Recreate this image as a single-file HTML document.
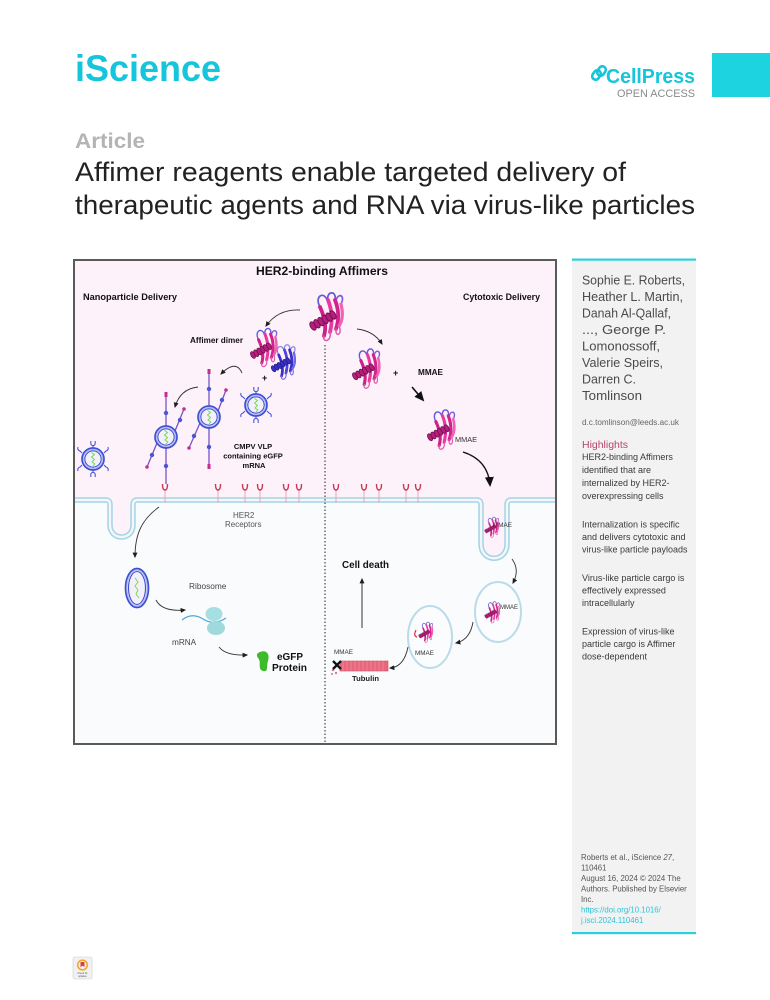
<!DOCTYPE html>
<html><head><meta charset="utf-8"><title>iScience article</title>
<style>
html,body{margin:0;padding:0;background:#fff}
body{width:770px;height:1000px;overflow:hidden}
svg{display:block}
text{font-family:"Liberation Sans",Arial,sans-serif}
</style></head><body>
<svg width="770" height="1000" viewBox="0 0 770 1000" xmlns="http://www.w3.org/2000/svg">
<defs>
<marker id="ah" viewBox="0 0 10 10" refX="8" refY="5" markerWidth="5.5" markerHeight="5.5" markerUnits="userSpaceOnUse" orient="auto"><path d="M0 0.5 L10 5 L0 9.5 z" fill="#1e1e1e"/></marker>
<marker id="ahb" viewBox="0 0 10 10" refX="8" refY="5" markerWidth="10" markerHeight="10" markerUnits="userSpaceOnUse" orient="auto"><path d="M0 0.5 L10 5 L0 9.5 z" fill="#111"/></marker>

<symbol id="aff" viewBox="0 0 40 52" overflow="visible">
 <g fill="none" stroke-linecap="round" stroke-linejoin="round">
  <path d="M12 17 C6 6 16 1 19 10" stroke="#6457dc" stroke-width="1.7"/>
  <path d="M20 10 C18 1 29 0 27 10" stroke="#6457dc" stroke-width="1.7"/>
  <path d="M28 11 C29 3 38 4 33 14" stroke="#7b5ee0" stroke-width="1.7"/>
  <path d="M12 17 C16 26 19 35 16 46" stroke="#cf1f88" stroke-width="3.8"/>
  <path d="M20 10 C24 20 25 30 22 42" stroke="#e8399f" stroke-width="3.8"/>
  <path d="M27 10 C31 20 31 30 28 39" stroke="#d1238b" stroke-width="3.8"/>
  <path d="M33 14 C35 22 35 30 31 36" stroke="#f062b6" stroke-width="3.2"/>
  <path d="M16 46 C14 53 24 52 22 42" stroke="#e25aad" stroke-width="1.5"/>
  <path d="M28 39 C27 48 35 45 31 36" stroke="#e25aad" stroke-width="1.5"/>
 </g>
 <g fill="#b51f7c" stroke="#6e0d4c" stroke-width="0.9">
  <ellipse cx="5" cy="36" rx="2.6" ry="4.6" transform="rotate(-30 5 36)"/>
  <ellipse cx="9" cy="33.8" rx="2.6" ry="4.6" transform="rotate(-30 9 33.8)"/>
  <ellipse cx="13" cy="31.6" rx="2.6" ry="4.6" transform="rotate(-30 13 31.6)"/>
  <ellipse cx="17" cy="29.4" rx="2.6" ry="4.6" transform="rotate(-30 17 29.4)"/>
  <ellipse cx="21" cy="27.2" rx="2.6" ry="4.6" transform="rotate(-30 21 27.2)"/>
  <ellipse cx="25" cy="25" rx="2.6" ry="4.6" transform="rotate(-30 25 25)"/>
 </g>
</symbol>

<symbol id="affb" viewBox="0 0 40 52" overflow="visible">
 <g fill="none" stroke-linecap="round" stroke-linejoin="round">
  <path d="M12 17 C6 6 16 1 19 10" stroke="#8c86ea" stroke-width="1.7"/>
  <path d="M20 10 C18 1 29 0 27 10" stroke="#8c86ea" stroke-width="1.7"/>
  <path d="M28 11 C29 3 38 4 33 14" stroke="#8c86ea" stroke-width="1.7"/>
  <path d="M12 17 C16 26 19 35 16 46" stroke="#3a2fc6" stroke-width="3.8"/>
  <path d="M20 10 C24 20 25 30 22 42" stroke="#4f43d8" stroke-width="3.8"/>
  <path d="M27 10 C31 20 31 30 28 39" stroke="#3a2fc6" stroke-width="3.8"/>
  <path d="M33 14 C35 22 35 30 31 36" stroke="#6e66e4" stroke-width="3.2"/>
  <path d="M16 46 C14 53 24 52 22 42" stroke="#6e66e4" stroke-width="1.5"/>
  <path d="M28 39 C27 48 35 45 31 36" stroke="#6e66e4" stroke-width="1.5"/>
 </g>
 <g fill="#3a2fc6" stroke="#1e1880" stroke-width="0.9">
  <ellipse cx="5" cy="36" rx="2.6" ry="4.6" transform="rotate(-30 5 36)"/>
  <ellipse cx="9" cy="33.8" rx="2.6" ry="4.6" transform="rotate(-30 9 33.8)"/>
  <ellipse cx="13" cy="31.6" rx="2.6" ry="4.6" transform="rotate(-30 13 31.6)"/>
  <ellipse cx="17" cy="29.4" rx="2.6" ry="4.6" transform="rotate(-30 17 29.4)"/>
  <ellipse cx="21" cy="27.2" rx="2.6" ry="4.6" transform="rotate(-30 21 27.2)"/>
  <ellipse cx="25" cy="25" rx="2.6" ry="4.6" transform="rotate(-30 25 25)"/>
 </g>
</symbol>

<g id="vlp">
 <circle r="11" fill="#f4f0fb" stroke="#3e50d2" stroke-width="1.7"/>
 <circle r="8.2" fill="none" stroke="#3e50d2" stroke-width="1.1"/>
 <circle r="9.6" fill="none" stroke="#aab3f0" stroke-width="0.9"/>
 <path d="M-1.5 -6.5 L1.5 -4.5 L-1.5 -2 L1.5 0.5 L-1 3 L1.8 5 L0 7" fill="none" stroke="#6fd64a" stroke-width="0.9"/>
</g>
<g id="vlpm" fill="none" stroke="#4a55d0" stroke-width="1.1">
 <path d="M-2.2 -18 V-15.6 A2.2 2.2 0 0 0 2.2 -15.6 V-18 M0 -13.4 V-11"/>
 <path d="M-2.2 18 V15.6 A2.2 2.2 0 0 1 2.2 15.6 V18 M0 13.4 V11"/>
 <path d="M-11 -6 L-13 -8 q-3 -1 -2 -4"/>
 <path d="M11 -6 L13 -8 q3 -1 2 -4"/>
 <path d="M-11 6 L-13 8 q-3 1 -2 4"/>
 <path d="M11 6 L13 8 q3 1 2 4"/>
</g>
</defs>

<!-- ============ HEADER ============ -->
<text x="75" y="81" font-size="37" font-weight="bold" fill="#15c5db" textLength="146" lengthAdjust="spacingAndGlyphs">iScience</text>

<g fill="none" stroke="#15c5db" stroke-width="2.6">
 <rect x="593" y="70" width="7" height="10" rx="3.5" transform="rotate(35 596.5 75)"/>
 <rect x="598" y="66" width="7" height="10" rx="3.5" transform="rotate(35 601.5 71)"/>
</g>
<text x="606" y="83" font-size="20" font-weight="bold" fill="#15c5db" textLength="89" lengthAdjust="spacingAndGlyphs">CellPress</text>
<text x="617" y="97" font-size="11" fill="#8a8a8a" textLength="78" lengthAdjust="spacingAndGlyphs">OPEN ACCESS</text>
<rect x="712" y="53" width="58" height="44" fill="#1dd3e0"/>

<text x="75" y="148" font-size="21" font-weight="bold" fill="#b4b4b4" textLength="70" lengthAdjust="spacingAndGlyphs">Article</text>
<text x="75" y="181" font-size="27" fill="#222" textLength="551" lengthAdjust="spacingAndGlyphs">Affimer reagents enable targeted delivery of</text>
<text x="75" y="214" font-size="27" fill="#222" textLength="620" lengthAdjust="spacingAndGlyphs">therapeutic agents and RNA via virus-like particles</text>

<!-- ============ GRAPHICAL ABSTRACT ============ -->
<rect x="74" y="260" width="482" height="484" fill="#f9fbfd"/>
<path d="M74 260 H556 V500 H507 V544 C507 563 481 563 481 544 V500 H133 V525 C133 541 110 541 110 525 V500 H74 Z" fill="#fdf2f9"/>
<path d="M74 500 H106 Q110 500 110 505 V525 C110 541 133 541 133 525 V505 Q133 500 137 500 H477 Q481 500 481 505 V544 C481 563 507 563 507 544 V505 Q507 500 511 500 H556" fill="none" stroke="#a8d3e3" stroke-width="5.5"/>
<path d="M74 500 H106 Q110 500 110 505 V525 C110 541 133 541 133 525 V505 Q133 500 137 500 H477 Q481 500 481 505 V544 C481 563 507 563 507 544 V505 Q507 500 511 500 H556" fill="none" stroke="#f1f8fb" stroke-width="2.4"/>

<!-- receptors -->
<g stroke-width="1" fill="none">
 <g stroke="#e6a7b7">
  <path d="M165 490 V503"/><path d="M218 490 V503"/><path d="M245 490 V503"/><path d="M260 490 V503"/><path d="M286 490 V503"/><path d="M299 490 V503"/>
  <path d="M336 490 V503"/><path d="M364 490 V503"/><path d="M379 490 V503"/><path d="M406 490 V503"/><path d="M418 490 V503"/>
 </g>
 <g stroke="#c8385a" stroke-width="1.4">
  <path d="M162.5 484 Q162.5 490 165 490 Q167.5 490 167.5 484"/>
  <path d="M215.5 484 Q215.5 490 218 490 Q220.5 490 220.5 484"/>
  <path d="M242.5 484 Q242.5 490 245 490 Q247.5 490 247.5 484"/>
  <path d="M257.5 484 Q257.5 490 260 490 Q262.5 490 262.5 484"/>
  <path d="M283.5 484 Q283.5 490 286 490 Q288.5 490 288.5 484"/>
  <path d="M296.5 484 Q296.5 490 299 490 Q301.5 490 301.5 484"/>
  <path d="M333.5 484 Q333.5 490 336 490 Q338.5 490 338.5 484"/>
  <path d="M361.5 484 Q361.5 490 364 490 Q366.5 490 366.5 484"/>
  <path d="M376.5 484 Q376.5 490 379 490 Q381.5 490 381.5 484"/>
  <path d="M403.5 484 Q403.5 490 406 490 Q408.5 490 408.5 484"/>
  <path d="M415.5 484 Q415.5 490 418 490 Q420.5 490 420.5 484"/>
 </g>
</g>

<!-- dashed divider -->
<line x1="325" y1="345" x2="325" y2="743" stroke="#222" stroke-width="1" stroke-dasharray="1.5 2"/>

<!-- box border -->
<rect x="74" y="260" width="482" height="484" fill="none" stroke="#5a5a5a" stroke-width="2"/>

<!-- titles -->
<text x="256" y="275" font-size="12" font-weight="bold" fill="#111" textLength="132" lengthAdjust="spacingAndGlyphs">HER2-binding Affimers</text>
<text x="83" y="300" font-size="9.2" font-weight="bold" fill="#111" textLength="94" lengthAdjust="spacingAndGlyphs">Nanoparticle Delivery</text>
<text x="463" y="300" font-size="9" font-weight="bold" fill="#111" textLength="77" lengthAdjust="spacingAndGlyphs">Cytotoxic Delivery</text>

<!-- top protein and dimer -->
<use href="#aff" x="308" y="290" width="40" height="52"/>
<use href="#affb" x="270" y="342" width="29" height="39"/>
<use href="#aff" x="249" y="326" width="32" height="42"/>
<text x="190" y="343" font-size="8" font-weight="bold" fill="#111" textLength="53" lengthAdjust="spacingAndGlyphs">Affimer dimer</text>
<text x="262" y="381" font-size="9" font-weight="bold" fill="#111">+</text>

<!-- VLPs -->
<use href="#vlp" x="93" y="459"/>
<use href="#vlpm" x="93" y="459"/>
<use href="#vlp" x="256" y="405"/>
<use href="#vlpm" x="256" y="405"/>

<!-- VLP sticks -->
<g stroke="#7b52c9" stroke-width="1.3" fill="none">
 <path d="M166 426 V395"/><path d="M166 448 V484"/><path d="M157 443 L147 467"/><path d="M175 431 L184 409"/>
 <path d="M209 406 V372"/><path d="M209 428 V467"/><path d="M200 423 L189 448"/><path d="M218 411 L226 390"/>
</g>
<g fill="#c2308f">
 <rect x="164.5" y="392" width="3" height="5"/><circle cx="147" cy="467" r="1.8"/><circle cx="184" cy="409" r="1.8"/>
 <rect x="207.5" y="369" width="3" height="5"/><rect x="207.5" y="464" width="3" height="5"/><circle cx="189" cy="448" r="1.8"/><circle cx="226" cy="390" r="1.8"/>
</g>
<g fill="#4a55d0">
 <circle cx="166" cy="413" r="2.2"/><circle cx="166" cy="466" r="2.2"/><circle cx="152" cy="455" r="2.2"/><circle cx="180" cy="420" r="2.2"/>
 <circle cx="209" cy="389" r="2.2"/><circle cx="209" cy="447" r="2.2"/><circle cx="194" cy="436" r="2.2"/><circle cx="222" cy="400" r="2.2"/>
</g>
<use href="#vlp" x="166" y="437"/>
<use href="#vlp" x="209" y="417"/>

<text font-size="7.5" font-weight="bold" fill="#111" text-anchor="middle">
 <tspan x="254" y="449">CMPV VLP</tspan>
 <tspan x="254" y="458.5">containing eGFP</tspan>
 <tspan x="254" y="468">mRNA</tspan>
</text>

<!-- left arrows -->
<g fill="none" stroke="#333" stroke-width="0.9" marker-end="url(#ah)">
 <path d="M300 310 Q278 309 266 326"/>
 <path d="M242 373 Q236 359 221 374"/>
 <path d="M198 387 Q180 389 175 407"/>
 <path d="M159 507 C141 520 135 535 135 557"/>
 <path d="M156 600 Q162 612 185 610"/>
 <path d="M219 647 Q226 656 247 655"/>
</g>

<!-- right top -->
<g fill="none" stroke="#333" stroke-width="0.9" marker-end="url(#ah)">
 <path d="M357 329 Q374 331 382 344"/>
</g>
<use href="#aff" x="351" y="346" width="33" height="44"/>
<text x="393" y="376" font-size="9" font-weight="bold" fill="#111">+</text>
<text x="418" y="375" font-size="8" font-weight="bold" fill="#111" textLength="25" lengthAdjust="spacingAndGlyphs">MMAE</text>
<path d="M412 387 L423 400" stroke="#111" stroke-width="1.6" fill="none" marker-end="url(#ahb)"/>
<use href="#aff" x="426" y="405" width="33" height="48"/>
<text x="455" y="442" font-size="7" fill="#333" textLength="22" lengthAdjust="spacingAndGlyphs">MMAE</text>
<path d="M463 452 Q488 460 490 485" stroke="#111" stroke-width="1.3" fill="none" marker-end="url(#ahb)"/>

<!-- lower left -->
<text x="233" y="518" font-size="8" fill="#555">HER2</text>
<text x="225" y="527" font-size="8" fill="#555">Receptors</text>
<ellipse cx="137" cy="588" rx="11.5" ry="19.5" fill="#f4f0fb" stroke="#3e50d2" stroke-width="1.7"/>
<ellipse cx="137" cy="588" rx="8.5" ry="16.5" fill="none" stroke="#3e50d2" stroke-width="1.1"/>
<ellipse cx="137" cy="588" rx="10" ry="18" fill="none" stroke="#aab3f0" stroke-width="0.9"/>
<path d="M135 578 L138 582 L135 586 L138 590 L136 594 L139 598" fill="none" stroke="#6fd64a" stroke-width="0.9"/>
<text x="189" y="589" font-size="8.3" fill="#444">Ribosome</text>
<path d="M182 620 Q192 612 203 619 T226 618" fill="none" stroke="#4aa8d8" stroke-width="1.2"/>
<ellipse cx="214" cy="614" rx="8.5" ry="7" fill="#a6dfe2"/>
<ellipse cx="216" cy="628" rx="9" ry="7" fill="#9fd9dd"/>
<text x="172" y="645" font-size="8.2" fill="#444">mRNA</text>
<path d="M260 652 C267 649 270 655 268 661 C266 667 269 672 263 671 C257 669 262 662 258 658 C256 655 257 653 260 652 Z" fill="#3dbb2a"/>
<text x="277" y="660" font-size="10" font-weight="bold" fill="#111" textLength="26" lengthAdjust="spacingAndGlyphs">eGFP</text>
<text x="272" y="671" font-size="10" font-weight="bold" fill="#111" textLength="35" lengthAdjust="spacingAndGlyphs">Protein</text>

<!-- lower right -->
<use href="#aff" x="484" y="514" width="17" height="26"/>
<text x="493" y="527" font-size="6" fill="#333" textLength="19" lengthAdjust="spacingAndGlyphs">MMAE</text>
<path d="M512 559 Q520 570 513 583" fill="none" stroke="#333" stroke-width="0.9" marker-end="url(#ah)"/>
<ellipse cx="498" cy="612" rx="23" ry="30" fill="#fafcfe" stroke="#bcdbe8" stroke-width="2"/>
<use href="#aff" x="484" y="598" width="18" height="28"/>
<text x="500" y="609" font-size="6.5" fill="#333" textLength="18" lengthAdjust="spacingAndGlyphs">MMAE</text>
<path d="M473 622 Q470 640 456 643" fill="none" stroke="#333" stroke-width="0.9" marker-end="url(#ah)"/>
<ellipse cx="430" cy="637" rx="22" ry="31" fill="#fafcfe" stroke="#bcdbe8" stroke-width="2"/>
<use href="#aff" x="418" y="620" width="17" height="24"/>
<path d="M416 630 Q413 636 417 637" fill="none" stroke="#d8283f" stroke-width="1.2"/>
<text x="415" y="655" font-size="6.5" fill="#333" textLength="19" lengthAdjust="spacingAndGlyphs">MMAE</text>
<path d="M408 647 Q404 667 390 668" fill="none" stroke="#333" stroke-width="0.9" marker-end="url(#ah)"/>

<rect x="340" y="661" width="48" height="10" fill="#e8677c" stroke="#d24a63" stroke-width="0.6"/>
<g stroke="#f29aa8" stroke-width="0.6">
 <path d="M343 661 V671 M347 661 V671 M351 661 V671 M355 661 V671 M359 661 V671 M363 661 V671 M367 661 V671 M371 661 V671 M375 661 V671 M379 661 V671 M383 661 V671"/>
</g>
<g fill="#e46a7c"><circle cx="333" cy="670" r="1.2"/><circle cx="336" cy="673" r="1.1"/><circle cx="332" cy="674" r="1"/></g>
<path d="M333 661 L341 669 M341 661 L333 669" stroke="#111" stroke-width="2.3"/>
<text x="334" y="654" font-size="6" fill="#333" textLength="19" lengthAdjust="spacingAndGlyphs">MMAE</text>
<text x="352" y="681" font-size="7.5" font-weight="bold" fill="#222" textLength="27" lengthAdjust="spacingAndGlyphs">Tubulin</text>
<text x="342" y="568" font-size="10" font-weight="bold" fill="#111" textLength="47" lengthAdjust="spacingAndGlyphs">Cell death</text>
<path d="M362 628 V579" stroke="#333" stroke-width="1" fill="none" marker-end="url(#ah)"/>

<!-- ============ SIDEBAR ============ -->
<rect x="572" y="260" width="124" height="673" fill="#f2f2f2"/>
<rect x="572" y="258.5" width="124" height="2.2" fill="#2cd0dc"/>
<rect x="572" y="932" width="124" height="2.2" fill="#2cd0dc"/>

<g font-size="13" fill="#4a4a4a">
 <text x="582" y="284.5" textLength="103" lengthAdjust="spacingAndGlyphs">Sophie E. Roberts,</text>
 <text x="582" y="301" textLength="101" lengthAdjust="spacingAndGlyphs">Heather L. Martin,</text>
 <text x="582" y="317.5" textLength="89" lengthAdjust="spacingAndGlyphs">Danah Al-Qallaf,</text>
 <text x="582" y="334" textLength="84" lengthAdjust="spacingAndGlyphs">..., George P.</text>
 <text x="582" y="350.5" textLength="78" lengthAdjust="spacingAndGlyphs">Lomonossoff,</text>
 <text x="582" y="367" textLength="81" lengthAdjust="spacingAndGlyphs">Valerie Speirs,</text>
 <text x="582" y="383.5" textLength="54" lengthAdjust="spacingAndGlyphs">Darren C.</text>
 <text x="582" y="400" textLength="60" lengthAdjust="spacingAndGlyphs">Tomlinson</text>
</g>
<text x="582" y="425" font-size="8" fill="#666" textLength="97" lengthAdjust="spacingAndGlyphs">d.c.tomlinson@leeds.ac.uk</text>
<text x="582" y="448" font-size="10.5" fill="#b8456a" textLength="46" lengthAdjust="spacingAndGlyphs">Highlights</text>
<g font-size="9" fill="#3a3a3a">
 <text x="582" y="460">HER2-binding Affimers</text>
 <text x="582" y="473">identified that are</text>
 <text x="582" y="486">internalized by HER2-</text>
 <text x="582" y="499">overexpressing cells</text>
 <text x="582" y="527.5">Internalization is specific</text>
 <text x="582" y="540">and delivers cytotoxic and</text>
 <text x="582" y="552.5">virus-like particle payloads</text>
 <text x="582" y="581">Virus-like particle cargo is</text>
 <text x="582" y="593.5">effectively expressed</text>
 <text x="582" y="606">intracellularly</text>
 <text x="582" y="634.5">Expression of virus-like</text>
 <text x="582" y="647">particle cargo is Affimer</text>
 <text x="582" y="659.5">dose-dependent</text>
</g>
<g font-size="7.8" fill="#555">
 <text x="581" y="860">Roberts et al., iScience <tspan font-style="italic">27</tspan>,</text>
 <text x="581" y="870.5">110461</text>
 <text x="581" y="881">August 16, 2024 © 2024 The</text>
 <text x="581" y="891.5">Authors. Published by Elsevier</text>
 <text x="581" y="902">Inc.</text>
 <text x="581" y="912.5" fill="#2ac4d8">https://doi.org/10.1016/</text>
 <text x="581" y="923" fill="#2ac4d8">j.isci.2024.110461</text>
</g>

<!-- check for updates badge -->
<rect x="73" y="957" width="19" height="22" rx="2" fill="#f1f1f1" stroke="#cfcfcf" stroke-width="0.6"/>
<circle cx="82.5" cy="965" r="4.8" fill="none" stroke="#f0a830" stroke-width="1.6"/>
<path d="M80.5 962 h4 v5 l-2 -1.3 l-2 1.3 z" fill="#e23b3b"/>
<text x="82.5" y="974" font-size="2.4" fill="#555" text-anchor="middle">Check for</text>
<text x="82.5" y="977" font-size="2.4" fill="#555" text-anchor="middle">updates</text>
</svg>
</body></html>
